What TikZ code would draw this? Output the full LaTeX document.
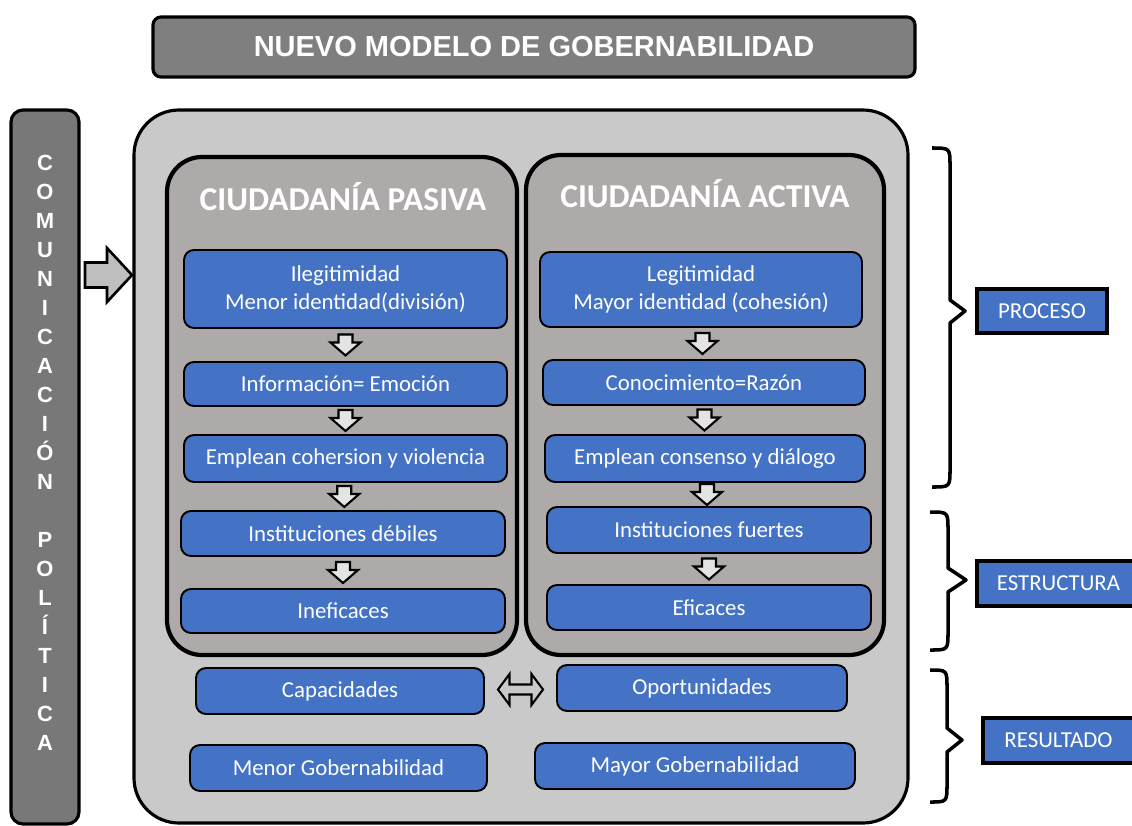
\documentclass[tikz,border=0pt]{standalone}
\usepackage{fontspec}
\setmainfont{Carlito}
\newfontfamily\arialfont{Liberation Sans}
\usetikzlibrary{calc}
\definecolor{azul}{HTML}{4472C4}
\definecolor{grisTitulo}{HTML}{7F7F7F}
\definecolor{grisBarra}{HTML}{787878}
\definecolor{grisFondo}{HTML}{C9C9C9}
\definecolor{grisMarco}{HTML}{AEAAAA}
\definecolor{grisFlecha}{HTML}{E4E4E4}
\definecolor{grisFlechaG}{HTML}{BFBFBF}

\tikzset{
    tam/.style 2 args={minimum width=#1*0.02cm, minimum height=#2*0.02cm},
    caja/.style={draw, fill=azul, rounded corners=2mm, line width=1.1pt, text=white, align=center, inner sep=0pt, font=\fontsize{13}{16}\selectfont},
    etiqueta/.style={draw, fill=azul, line width=1.8pt, text=white, inner sep=0pt, font=\fontsize{13}{16}\selectfont},
    marco/.style={draw, fill=grisMarco, rounded corners=7mm, line width=2.4pt, inner sep=0pt},
    titmarco/.style={text=white, inner sep=0pt, font=\bfseries\fontsize{19}{22}\selectfont},
    llave/.style={line width=2pt, line join=round},
    flechaabajo/.pic={\draw[fill=grisFlecha, line width=1.2pt] (-7,-10.5) -- (7,-10.5) -- (7,-2.5) -- (15,-2.5) -- (0,10.5) -- (-15,-2.5) -- (-7,-2.5) -- cycle;},
    flechadoble/.pic={\draw[fill=grisFondo, line width=1.2pt] (-22.5,0) -- (-11,-15.5) -- (-11,-5) -- (11,-5) -- (11,-15.5) -- (22.5,0) -- (11,15.5) -- (11,5) -- (-11,5) -- (-11,15.5) -- cycle;},
    flechader/.pic={\draw[fill=grisFlechaG, line width=1.5pt] (0,-12.5) -- (22,-12.5) -- (22,-27) -- (47,0) -- (22,27) -- (22,12.5) -- (0,12.5) -- cycle;}
}

\begin{document}
\begin{tikzpicture}[x=0.02cm, y=-0.02cm]
    \useasboundingbox (0,0) rectangle (1132,825);

    \node[draw, fill=grisTitulo, rounded corners=1.6mm, line width=1.8pt, tam={762}{60}, text=white, font=\arialfont\bfseries\fontsize{16.5}{20}\selectfont] at (534,47) (titulo) {NUEVO MODELO DE GOBERNABILIDAD};

    \node[draw, fill=grisBarra, rounded corners=2.4mm, line width=1.8pt, tam={68}{714}] at (45,467) (barra) {};
    \node[text=white, align=center, inner sep=0pt, font=\arialfont\bfseries\fontsize{12.5}{16.5}\selectfont] at (45,452.5) (comunicacion) {C\\O\\M\\U\\N\\I\\C\\A\\C\\I\\Ó\\N\\[16.5pt]P\\O\\L\\Í\\T\\I\\C\\A};
    \pic at (85,275) {flechader};

    \node[draw, fill=grisFondo, rounded corners=9mm, line width=1.8pt, tam={774}{713}] at (521,466.5) (fondo) {};

    \node[marco, tam={350}{498}] at (342,406) (pasiva) {};
    \node[marco, tam={358}{500}] at (705,405) (activa) {};
    \node[titmarco] at (343,197) (tpasiva) {CIUDADANÍA PASIVA};
    \node[titmarco] at (705,194) (tactiva) {CIUDADANÍA ACTIVA};

    \node[caja, tam={323}{78}] at (345.5,289) (p1) {Ilegitimidad\\Menor identidad(división)};
    \node[caja, tam={323}{44}] at (345.5,384) (p2) {Información= Emoción};
    \node[caja, tam={323}{47}] at (345.5,458.5) (p3) {Emplean cohersion y violencia};
    \node[caja, tam={324}{45}] at (343,533.5) (p4) {Instituciones débiles};
    \node[caja, tam={324}{44}] at (343,611) (p5) {Ineficaces};

    \node[caja, tam={322}{75}] at (701,289.5) (a1) {Legitimidad\\Mayor identidad (cohesión)};
    \node[caja, tam={322}{45}] at (704,382.5) (a2) {Conocimiento=Razón};
    \node[caja, tam={320}{47}] at (705,458.5) (a3) {Emplean consenso y diálogo};
    \node[caja, tam={324}{46}] at (709,530) (a4) {Instituciones fuertes};
    \node[caja, tam={324}{45}] at (709,607.5) (a5) {Eficaces};

    \pic at ($(p1.south)!0.5!(p2.north)$) {flechaabajo};
    \pic at ($(p2.south)!0.5!(p3.north)$) {flechaabajo};
    \pic at ($(p3.south)!0.5!(p4.north)$) {flechaabajo};
    \pic at ($(p4.south)!0.5!(p5.north)$) {flechaabajo};
    \pic at ($(a1.south)!0.5!(a2.north)$) {flechaabajo};
    \pic at ($(a2.south)!0.5!(a3.north)$) {flechaabajo};
    \pic at ($(a3.south)!0.5!(a4.north)$) {flechaabajo};
    \pic at ($(a4.south)!0.5!(a5.north)$) {flechaabajo};

    \node[caja, tam={288}{46}] at (340,691) (capacidades) {Capacidades};
    \node[caja, tam={290}{46}] at (702,688) (oportunidades) {Oportunidades};
    \node[caja, tam={297}{46}] at (338.5,768) (menor) {Menor Gobernabilidad};
    \node[caja, tam={320}{46}] at (695,766) (mayor) {Mayor Gobernabilidad};
    \pic at ($(capacidades.east)!0.5!(oportunidades.west)$) {flechadoble};

    \draw[llave] (932,148) .. controls (950,148) .. (950,166) -- (950,300) -- (965,311) -- (950,323) -- (950,469) .. controls (950,487) .. (932,487);
    \draw[llave] (930,512) .. controls (948,512) .. (948,530) -- (948,568) -- (966,580) -- (948,592) -- (948,632) .. controls (948,650) .. (930,650);
    \draw[llave] (930,670) .. controls (947,670) .. (947,688) -- (947,728) -- (962,740) -- (947,752) -- (947,784) .. controls (947,802) .. (930,802);

    \node[etiqueta, tam={130}{44}] at (1042,311) (proceso) {PROCESO};
    \node[etiqueta, tam={163}{45}] at (1058.5,583.5) (estructura) {ESTRUCTURA};
    \node[etiqueta, tam={151}{45}] at (1058.5,740.5) (resultado) {RESULTADO};
\end{tikzpicture}
\end{document}
